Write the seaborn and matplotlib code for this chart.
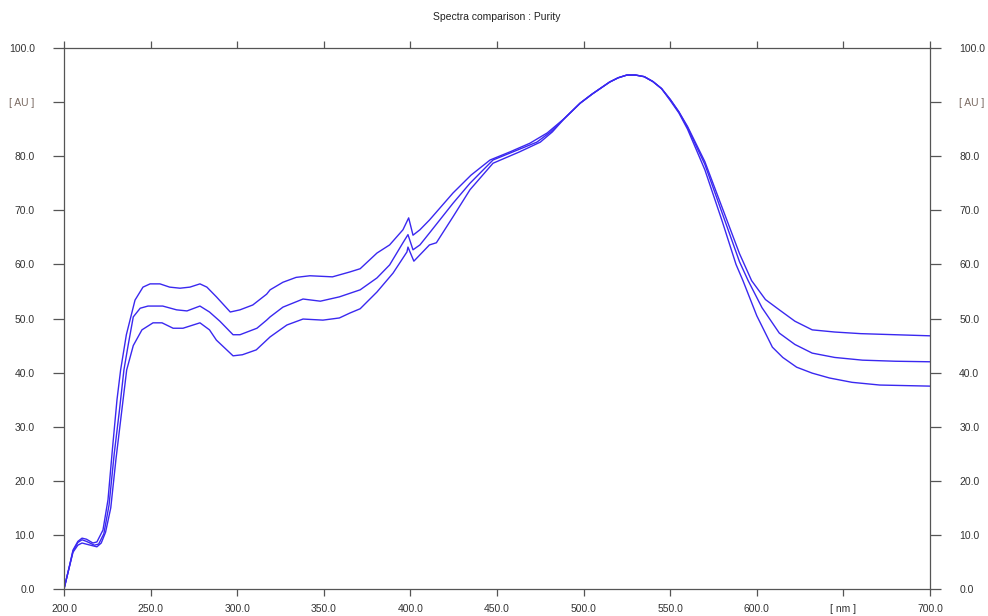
import matplotlib
matplotlib.use("Agg")
import matplotlib.pyplot as plt
import seaborn as sns
import pandas as pd

# ---- data ----
top_nm = [200, 203, 205.2, 208, 210.4, 213, 216.7, 219, 222.5, 225.4, 228, 230.6, 232.7, 236, 241, 245.6,
          249.7, 255.4, 261, 267, 272.7, 278.5, 282.5, 288, 296, 301.6, 309, 317, 319, 326.4, 334, 342, 355,
          365, 371, 380.7, 388, 395.7, 399, 401.5, 405.5, 411, 424.6, 435, 446, 457.5, 469, 479, 489, 498,
          505, 510, 515, 520, 525, 530, 535, 540, 545, 550, 555, 560, 570, 580, 590, 597, 605, 613, 622,
          632, 645, 660, 680, 700]
top_au = [0, 4, 7.2, 8.8, 9.4, 9.2, 8.5, 8.7, 10.9, 16.5, 26, 35, 40.5, 47, 53.4, 55.8,
          56.4, 56.4, 55.8, 55.6, 55.8, 56.4, 55.8, 54, 51.2, 51.6, 52.5, 54.5, 55.3, 56.7, 57.6, 57.9, 57.7,
          58.6, 59.2, 62.1, 63.6, 66.4, 68.6, 65.4, 66.4, 68.2, 73.2, 76.5, 79.3, 80.8, 82.4, 84.3, 87, 89.8,
          91.5, 92.6, 93.7, 94.5, 95, 95, 94.7, 93.8, 92.5, 90.5, 88.2, 85.5, 79, 70.5, 62, 57, 53.5, 51.6, 49.5,
          47.9, 47.5, 47.2, 47, 46.8]

mid_nm = [200, 203, 205.2, 208, 210.4, 213, 217.5, 220, 223, 226, 229, 232, 234.6, 237, 240, 244, 248.5,
          257, 265, 271, 278.5, 284, 290, 297.6, 301.6, 311.4, 317, 319, 326.4, 338, 348, 359, 371, 380.7,
          388, 395.7, 398.6, 401.5, 405.5, 411, 424.6, 434.4, 447.7, 461.5, 473, 481, 489, 498, 505, 510,
          515, 520, 525, 530, 535, 540, 545, 550, 555, 560, 570, 580, 590, 595, 603, 613, 622, 632, 645,
          661, 680, 700]
mid_au = [0, 4, 7, 8.6, 9.1, 8.8, 8.1, 8.3, 10.2, 15.5, 25, 33, 40.5, 45, 50.3, 51.9, 52.3,
          52.3, 51.6, 51.4, 52.3, 51.2, 49.5, 47, 47, 48.2, 49.7, 50.3, 52.1, 53.6, 53.2, 54, 55.3, 57.5,
          59.9, 64, 65.5, 62.7, 63.6, 65.8, 71.3, 75, 79.3, 81.1, 82.6, 84.5, 87, 89.8, 91.5, 92.6,
          93.7, 94.5, 95, 95, 94.7, 93.8, 92.5, 90.5, 88.2, 85.3, 78.5, 69.5, 60.5, 57, 52, 47.3, 45.2, 43.6, 42.8,
          42.3, 42.1, 42]

bot_nm = [200, 203, 205.2, 208, 210.4, 214, 219, 221.5, 224, 227, 230, 233, 236.2, 240, 245, 251.4, 256.6,
          263, 268.7, 278.5, 284, 288, 297.6, 303, 311, 319, 324.7, 328.7, 338, 349.5, 359, 365, 371, 380.7,
          390, 398, 398.6, 402, 411, 415, 424.6, 434.4, 447.7, 463, 475, 482, 489, 498, 505, 510, 515, 520,
          525, 530, 535, 540, 545, 550, 555, 560, 570, 580, 588, 592, 600, 609, 615, 623, 632, 642, 655,
          671, 700]
bot_au = [0, 4, 6.8, 8.1, 8.5, 8.2, 7.8, 8.5, 10.5, 15, 24, 32, 40.5, 45, 47.9, 49.2, 49.2,
          48.2, 48.2, 49.2, 47.9, 46, 43.1, 43.3, 44.2, 46.6, 47.9, 48.8, 49.9, 49.7, 50.1, 51, 51.8, 54.9,
          58.4, 62.3, 63.2, 60.6, 63.6, 64, 68.8, 73.8, 78.7, 80.8, 82.6, 84.5, 87, 89.8, 91.5, 92.6, 93.7, 94.5,
          95, 95, 94.7, 93.8, 92.5, 90.3, 88, 85, 77.5, 68, 60, 57, 50.5, 44.7, 42.8, 41, 39.9, 39, 38.2,
          37.7, 37.5]

x_ticks = [200, 250, 300, 350, 400, 450, 500, 550, 600, 650, 700]
x_labels = ["200.0", "250.0", "300.0", "350.0", "400.0", "450.0", "500.0", "550.0", "600.0", "[ nm ]", "700.0"]
y_ticks = [0, 10, 20, 30, 40, 50, 60, 70, 80, 90, 100]
y_labels = ["0.0", "10.0", "20.0", "30.0", "40.0", "50.0", "60.0", "70.0", "80.0", "[ AU ]", "100.0"]
title = "Spectra comparison : Purity"

df = pd.concat([
    pd.DataFrame({"nm": top_nm, "AU": top_au, "curve": "top"}),
    pd.DataFrame({"nm": mid_nm, "AU": mid_au, "curve": "mid"}),
    pd.DataFrame({"nm": bot_nm, "AU": bot_au, "curve": "bot"}),
])

sns.set_style("white")
plt.rcParams["font.family"] = ["Liberation Sans", "DejaVu Sans"]

fig = plt.figure(figsize=(9.88, 6.16), dpi=100)
ax = fig.add_axes([64 / 988, 1 - 589 / 616, (930 - 64) / 988, (589 - 48) / 616])

sns.lineplot(data=df, x="nm", y="AU", units="curve", estimator=None, sort=False,
             color="#3a28f0", linewidth=1.0, ax=ax, legend=False)

ax.set_xlim(200, 700)
ax.set_ylim(0, 100)
ax.set_xlabel("")
ax.set_ylabel("")

tick_col = "#555555"
text_col = "#333333"
for s in ax.spines.values():
    s.set_visible(True)
    s.set_color(tick_col)
    s.set_linewidth(0.9)

ax.set_xticks(x_ticks)
ax.set_xticklabels(x_labels)
ax.set_yticks(y_ticks)
ax.set_yticklabels(y_labels)

ax.tick_params(axis="y", which="both", direction="out", length=8, width=0.9, color=tick_col,
               left=True, right=True, labelleft=True, labelright=True, pad=13,
               labelsize=7.5, labelcolor=text_col)
ax.tick_params(axis="x", which="both", direction="out", length=5, width=0.9, color=tick_col,
               bottom=True, top=True, labelbottom=True, labeltop=False, pad=6,
               labelsize=7.5, labelcolor=text_col)
for lab in ax.get_yticklabels():
    if lab.get_text() == "[ AU ]":
        lab.set_color("#7a6a62")

fig.text(497 / 988, 1 - 17 / 616, title, ha="center", va="center", fontsize=7.5, color="#222222")

fig.savefig("out.png", dpi=100, facecolor="white")
